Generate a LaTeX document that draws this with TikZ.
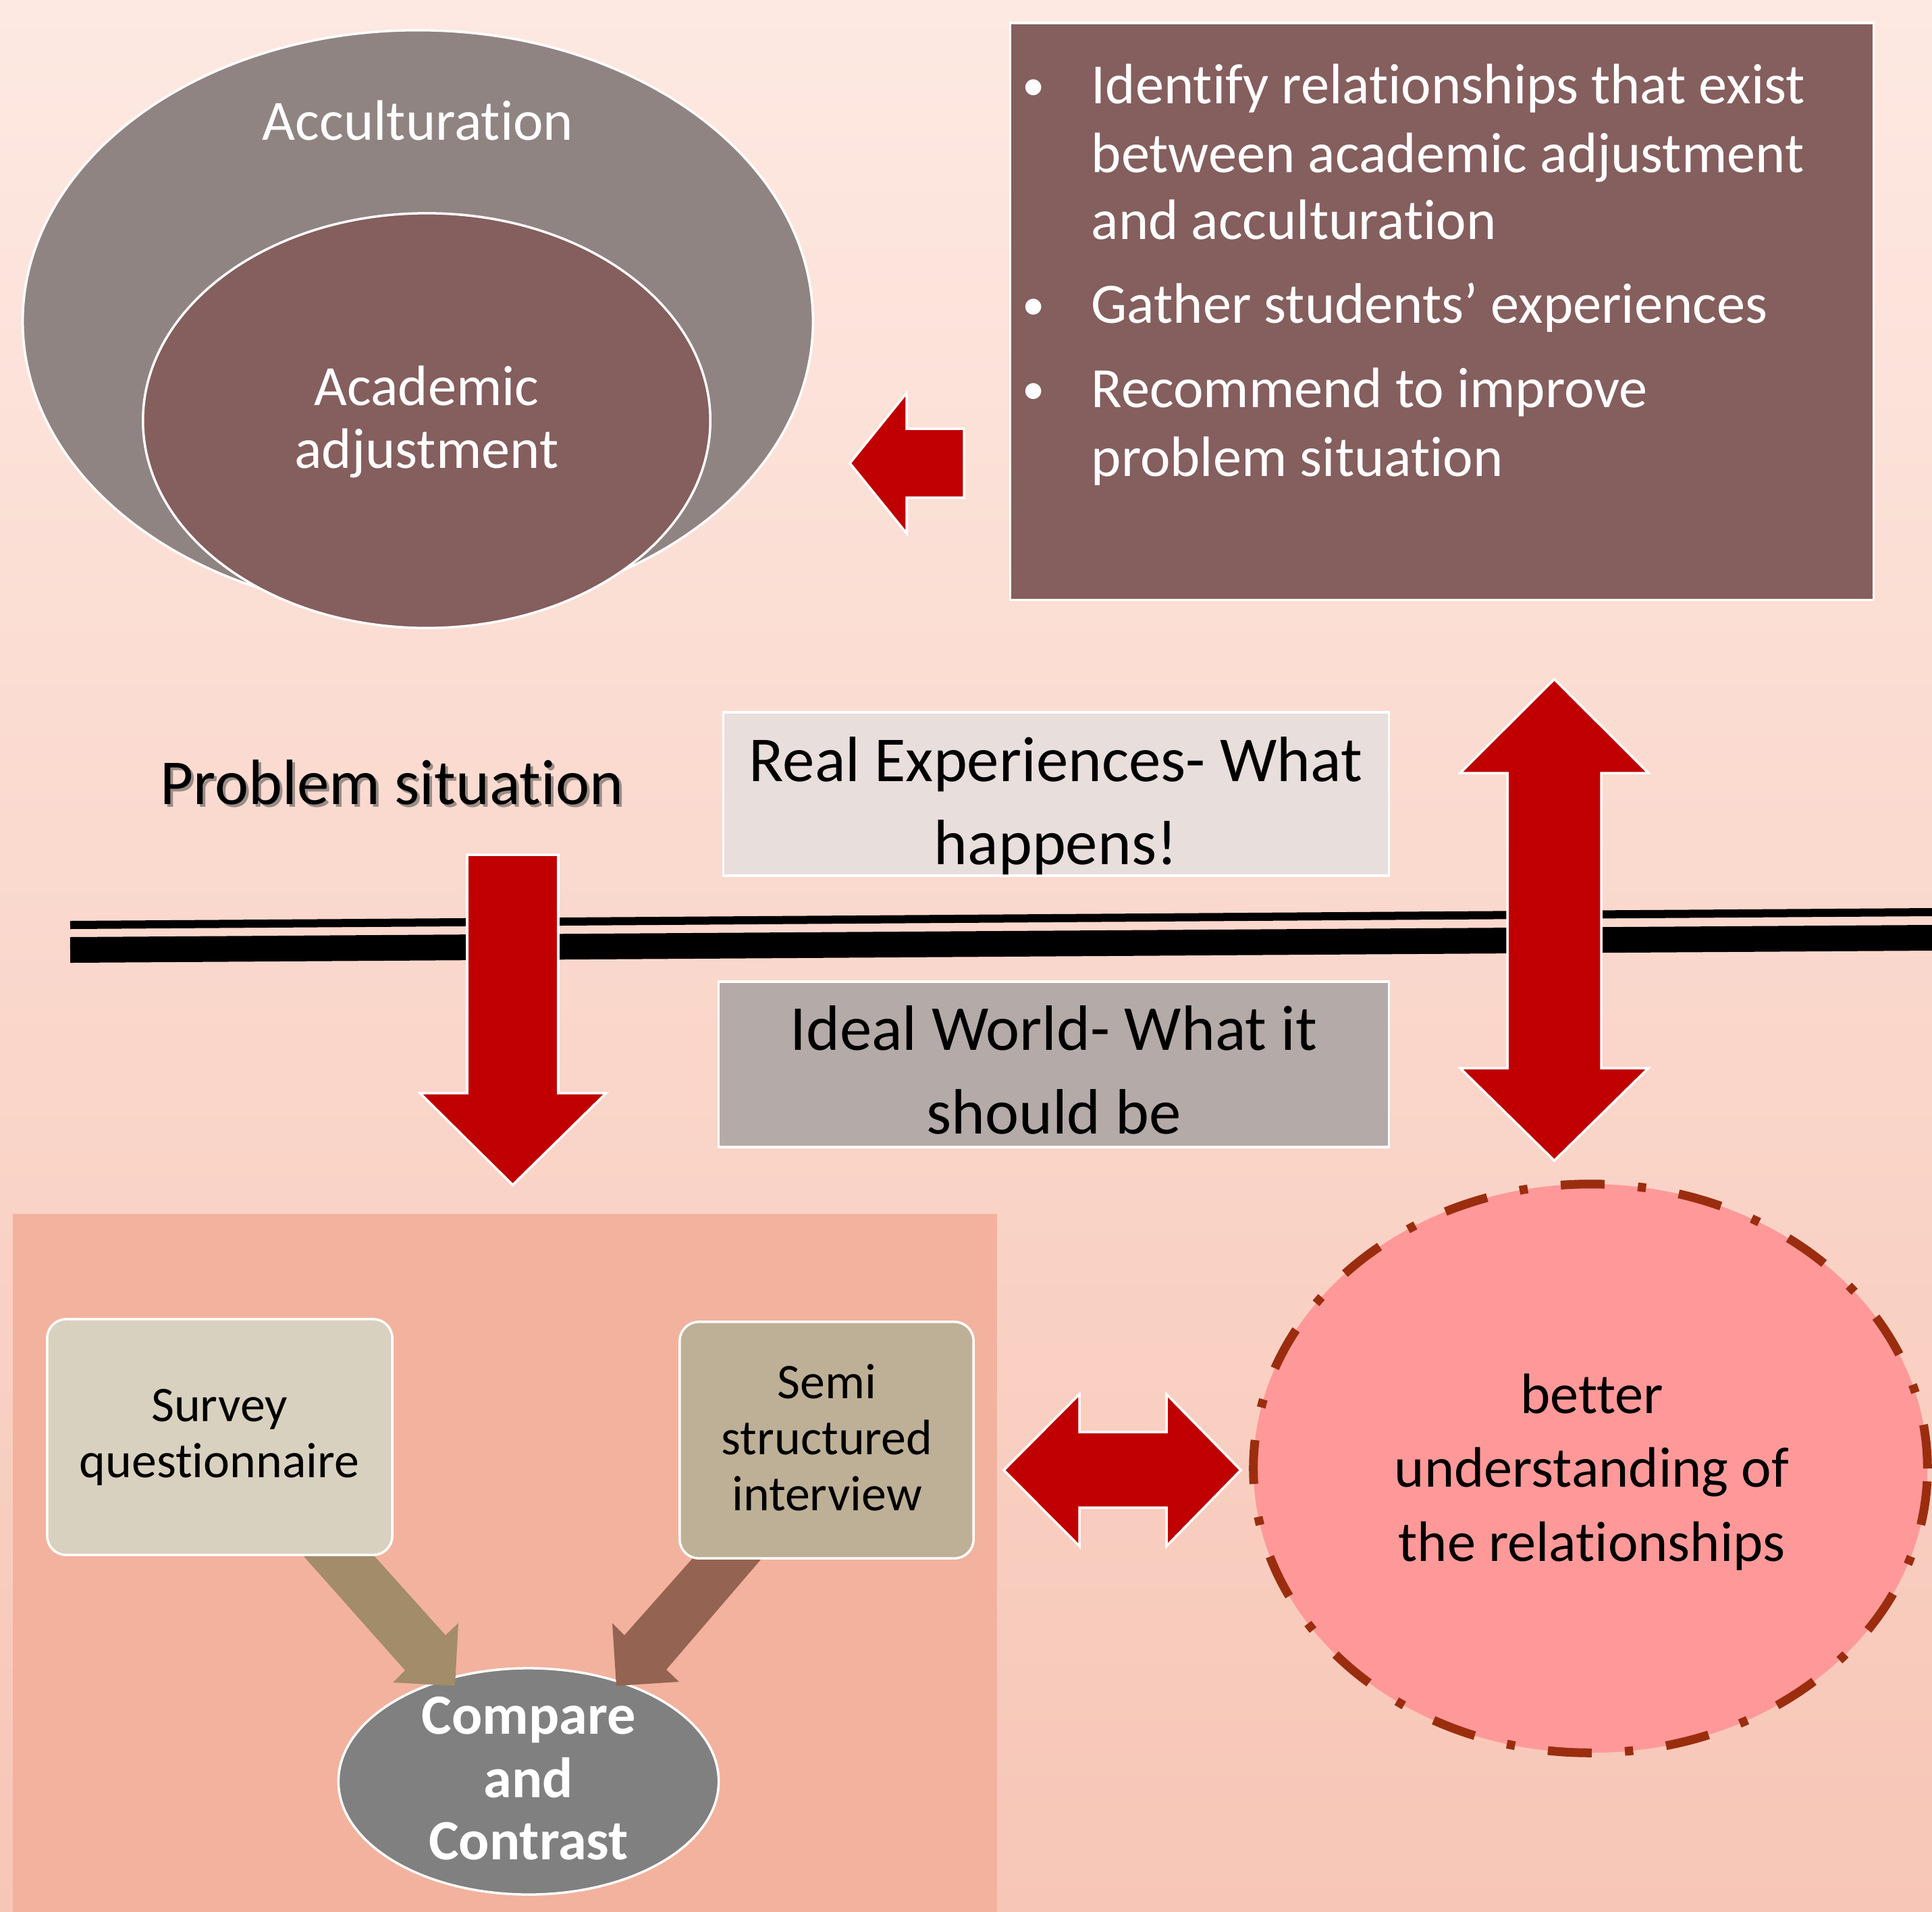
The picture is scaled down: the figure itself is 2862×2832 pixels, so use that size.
\documentclass[tikz,border=0pt]{standalone}
\usepackage{fontspec}
\setmainfont{Carlito}[Ligatures={NoCommon,NoContextual}]
\usetikzlibrary{shapes.geometric}
\definecolor{bgtop}{HTML}{FDE9E2}
\definecolor{bgbot}{HTML}{F7C6B6}
\definecolor{accgray}{HTML}{908482}
\definecolor{maroon}{HTML}{855E5E}
\definecolor{arrred}{HTML}{C00000}
\definecolor{realbox}{HTML}{E8DEDC}
\definecolor{idealbox}{HTML}{B4AAA8}
\definecolor{panel}{HTML}{F3B29E}
\definecolor{surveyc}{HTML}{D9D1C0}
\definecolor{semic}{HTML}{BDB096}
\definecolor{sarrow}{HTML}{A38C6A}
\definecolor{marrow}{HTML}{956352}
\definecolor{comparec}{HTML}{808080}
\definecolor{circfill}{HTML}{FF9999}
\definecolor{circline}{HTML}{9B2D0F}
\newcommand\fsz[2]{\fontsize{#1}{#2}\selectfont}
\tikzset{
  wborder/.style={draw=white, line width=1pt},
  redarrow/.style={fill=arrred, draw=white, line width=1pt},
  txt/.style={anchor=base, inner sep=0pt},
  lefttxt/.style={anchor=base west, inner sep=0pt},
}
\begin{document}
\begin{tikzpicture}[x=0.01cm, y=-0.01cm]
\useasboundingbox (0,0) rectangle (2862,2832);
% background
\shade[top color=bgtop, bottom color=bgbot] (0,0) rectangle (2862,2832);
\fill[panel] (19,1798) rectangle (1477,2832);

% ellipses
\node[ellipse, wborder, fill=accgray, minimum width=11.70cm, minimum height=8.62cm, inner sep=0pt] (accult) at (619,476) {};
\node[ellipse, wborder, fill=maroon, minimum width=8.40cm, minimum height=6.14cm, inner sep=0pt] (acad) at (632,623) {};
\node[txt, text=white, font=\fsz{24}{28}] (tacc) at (619,207) {Acculturation};
\node[txt, text=white, font=\fsz{24}{28}] (tacad1) at (632,600) {Academic};
\node[txt, text=white, font=\fsz{24}{28}] (tacad2) at (632,693) {adjustment};

% objectives box
\node[rectangle, wborder, fill=maroon, minimum width=12.78cm, minimum height=8.54cm, inner sep=0pt] (obj) at (2136,461) {};
\foreach \yy in {148,473,598} {
  \node[txt, text=white, font=\fsz{19}{22}] at (1531,\yy) {•};
}
\node[lefttxt, text=white, font=\fsz{24}{28}] (b1a) at (1616,153) {Identify relationships that exist};
\node[lefttxt, text=white, font=\fsz{24}{28}] (b1b) at (1616,255) {between academic adjustment};
\node[lefttxt, text=white, font=\fsz{24}{28}] (b1c) at (1616,354) {and acculturation};
\node[lefttxt, text=white, font=\fsz{24}{28}] (b2) at (1616,478) {Gather students’ experiences};
\node[lefttxt, text=white, font=\fsz{24}{28}] (b3a) at (1616,603) {Recommend to improve};
\node[lefttxt, text=white, font=\fsz{24}{28}] (b3b) at (1616,705) {problem situation};

% left arrow
\draw[redarrow] (1259,686) -- (1343,582) -- (1343,635) -- (1428,635) -- (1428,737) -- (1343,737) -- (1343,790) -- cycle;

% double line
\draw[black, line width=12*0.2845pt] (104,1370) -- (2862,1351);
\draw[black, line width=38*0.2845pt] (104,1407) -- (2862,1389);

% Problem situation
\node[lefttxt, text=black!70, opacity=0.55, font=\fsz{27}{32}] (tprobsh) at (241,1195) {Problem situation};
\node[lefttxt, text=black, font=\fsz{27}{32}] (tprob) at (237,1191) {Problem situation};

% real / ideal boxes
\node[rectangle, wborder, fill=realbox, minimum width=9.85cm, minimum height=2.42cm, inner sep=0pt] (real) at (1564.5,1176) {};
\node[txt, font=\fsz{27}{32}] (treal1) at (1564,1157) {Real Experiences- What};
\node[txt, font=\fsz{27}{32}] (treal2) at (1564,1280) {happens!};
\node[rectangle, wborder, fill=idealbox, minimum width=9.92cm, minimum height=2.45cm, inner sep=0pt] (ideal) at (1561,1576.5) {};
\node[txt, font=\fsz{27}{32}] (tideal1) at (1561,1555) {Ideal World- What it};
\node[txt, font=\fsz{27}{32}] (tideal2) at (1561,1679) {should be};

% down arrow
\draw[redarrow] (692,1266) -- (827,1266) -- (827,1619) -- (898,1619) -- (759.5,1755) -- (622,1619) -- (692,1619) -- cycle;

% vertical double arrow
\draw[redarrow] (2302.5,1006) -- (2442,1145) -- (2372,1145) -- (2372,1582) -- (2442,1582) -- (2302.5,1719) -- (2163,1582) -- (2233,1582) -- (2233,1145) -- (2163,1145) -- cycle;

% horizontal double arrow
\draw[redarrow] (1487,2177.5) -- (1599,2065) -- (1599,2121) -- (1728,2121) -- (1728,2065) -- (1838,2177.5) -- (1728,2290) -- (1728,2233) -- (1599,2233) -- (1599,2290) -- cycle;

% dashed circle
\node[ellipse, fill=circfill, draw=circline, line width=3.7pt, dash pattern=on 18.5pt off 14pt on 3.5pt off 14pt, minimum width=9.98cm, minimum height=8.42cm, inner sep=0pt] (better) at (2356,2175) {};
\node[txt, font=\fsz{24}{28}] (tb1) at (2358,2093) {better};
\node[txt, font=\fsz{24}{28}] (tb2) at (2358,2202) {understanding of};
\node[txt, font=\fsz{24}{28}] (tb3) at (2358,2312) {the relationships};

% compare ellipse
\node[ellipse, wborder, fill=comparec, minimum width=5.63cm, minimum height=3.35cm, inner sep=0pt] (compare) at (783,2638.5) {};

% arrows into compare
\fill[sarrow] (448,2303) -- (600,2474) -- (582,2492) -- (674,2497) -- (679,2404) -- (660,2422) -- (553,2303) -- cycle;
\fill[marrow] (1127,2310) -- (987,2473) -- (1006,2491) -- (913,2497) -- (907,2404) -- (925,2422) -- (1027,2307) -- cycle;

\node[txt, text=white, font=\fsz{24}{28}\bfseries] (tc1) at (783,2568) {Compare};
\node[txt, text=white, font=\fsz{24}{28}\bfseries] (tc2) at (783,2662) {and};
\node[txt, text=white, font=\fsz{24}{28}\bfseries] (tc3) at (783,2754) {Contrast};

% survey and semi boxes
\node[rectangle, rounded corners=8pt, wborder, fill=surveyc, minimum width=5.11cm, minimum height=3.49cm, inner sep=0pt] (survey) at (325.5,2128.5) {};
\node[txt, font=\fsz{21}{25}] (ts1) at (325,2105) {Survey};
\node[txt, font=\fsz{21}{25}] (ts2) at (325,2188) {questionnaire};
\node[rectangle, rounded corners=8pt, wborder, fill=semic, minimum width=4.35cm, minimum height=3.50cm, inner sep=0pt] (semi) at (1224.5,2133) {};
\node[txt, font=\fsz{21}{25}] (tm1) at (1225,2071) {Semi};
\node[txt, font=\fsz{21}{25}] (tm2) at (1225,2154) {structured};
\node[txt, font=\fsz{21}{25}] (tm3) at (1225,2237) {interview};
\end{tikzpicture}
\end{document}
